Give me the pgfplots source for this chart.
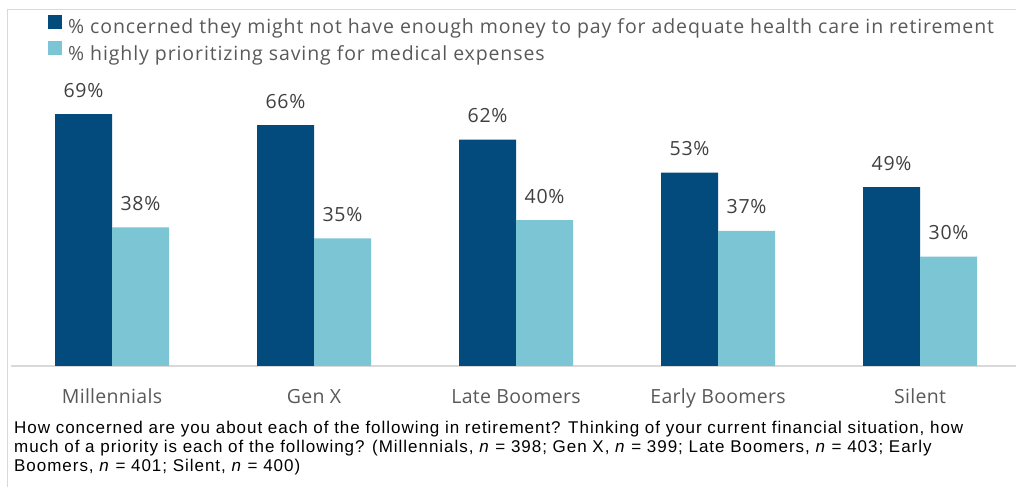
\documentclass[border=0pt]{standalone}
\usepackage{pgfplots}
\pgfplotsset{compat=1.18}
\usepackage{fontspec}
\setmainfont[LetterSpace=5.7]{Liberation Sans}
\newfontfamily\opensans[LetterSpace=4]{Open Sans}
\newfontfamily\opensansleg[LetterSpace=4.6]{Open Sans}
\newfontfamily\opensanscat[LetterSpace=1.5]{Open Sans}
\definecolor{darkb}{RGB}{3,75,124}
\definecolor{lightb}{RGB}{123,197,212}
\definecolor{txtg}{RGB}{89,89,89}
\definecolor{valg}{RGB}{64,64,64}
\definecolor{frameg}{RGB}{217,217,217}
\begin{document}
\begin{tikzpicture}
\useasboundingbox (0,0) rectangle (1016pt,487pt);
\draw[frameg, line width=1pt] (7pt,0pt) -- (7pt,477pt) -- (1016pt,477pt);
\begin{axis}[
  at={(112pt,121pt)}, anchor=origin,
  scale only axis, width=1005pt, height=292pt,
  xmin=-0.5, xmax=4.475, ymin=0, ymax=80,
  ybar=0pt, bar width=57pt,
  axis x line=bottom, axis y line=none,
  x axis line style={frameg, line width=1.5pt, -},
  xtick=data, major tick length=0pt,
  xticklabels={Millennials, Gen X, Late Boomers, Early Boomers, Silent},
  xticklabel style={anchor=base, yshift=-37pt, inner sep=0pt, font=\opensanscat\fontsize{19.5}{23}\selectfont, text=txtg},
  /pgf/number format/assume math mode=true,
  nodes near coords={\pgfmathprintnumber{\pgfplotspointmeta}\%},
  nodes near coords style={anchor=base, yshift=17pt, inner sep=0pt, font=\opensans\fontsize{19.5}{23}\selectfont, text=valg},
  legend style={draw=none, fill=none, at={(axis description cs:0.0368,1.202)}, anchor=north west, inner sep=0pt, row sep=4pt, column sep=4pt, font=\opensansleg\fontsize{19.5}{23}\selectfont, text=txtg},
  legend cell align=left,
  legend image code/.code={\fill[#1] (0pt,-2pt) rectangle (14pt,12pt);},
]
\addplot[fill=darkb, draw=none] coordinates {(0,69) (1,66) (2,62) (3,53) (4,49)};
\addplot[fill=lightb, draw=none] coordinates {(0,38) (1,35) (2,40) (3,37) (4,30)};
\legend{\% concerned they might not have enough money to pay for adequate health care in retirement, \% highly prioritizing saving for medical expenses}
\end{axis}
\node[anchor=base west, align=left, inner sep=0pt, font=\fontsize{17}{19}\selectfont] at (14pt,16pt) {How concerned are you about each of the following in retirement? Thinking of your current financial situation, how\\much of a priority is each of the following? (Millennials, \textit{n} = 398; Gen X, \textit{n} = 399; Late Boomers, \textit{n} = 403; Early\\Boomers, \textit{n} = 401; Silent, \textit{n} = 400)};
\end{tikzpicture}
\end{document}
